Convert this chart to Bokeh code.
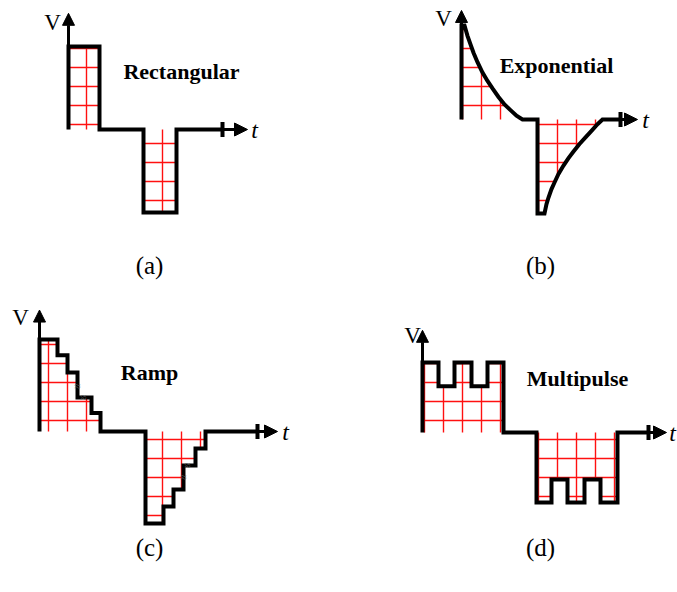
from bokeh.plotting import figure
from bokeh.models import Range1d, Arrow, NormalHead
from bokeh.layouts import column, row
from bokeh.core.properties import value
from bokeh.embed import file_html
from bokeh.resources import INLINE

# ---------------- data (t in arbitrary time units, V normalised to pulse amplitude) -------------
# (a) rectangular
a_pos_edges = [0.0, 3.1]
a_pos_levels = [1.0]
a_neg_edges = [7.5, 10.8]
a_neg_levels = [-1.0]
a_t_tick, a_t_tip, a_v_tip = 15.4, 17.9, 1.40

# (b) exponential
b_decay_t = [0.0, 0.3, 0.6, 0.9, 1.2, 1.6, 2.1, 2.6, 3.1, 3.7, 4.3, 4.9, 5.5, 6.1]
b_decay_v = [1.0, 1.0, 0.89, 0.80, 0.71, 0.61, 0.50, 0.41, 0.33, 0.24, 0.16, 0.10, 0.04, 0.0]
b_rise_t = [7.6, 8.3, 8.5, 8.7, 9.0, 9.3, 9.7, 10.2, 10.7, 11.2, 11.8, 12.4, 13.0, 13.6, 14.1]
b_rise_v = [-1.0, -1.0, -0.90, -0.83, -0.74, -0.67, -0.58, -0.49, -0.41, -0.34, -0.26, -0.19, -0.12, -0.05, 0.0]
b_t_tick, b_t_tip, b_v_tip = 15.9, 17.6, 1.16

# (c) ramp (staircase)
c_pos_edges = [0.0, 1.8, 2.8, 3.8, 5.2, 6.1]
c_pos_levels = [1.0, 0.83, 0.64, 0.37, 0.20]
c_neg_edges = [10.6, 12.4, 13.4, 14.4, 15.6, 16.6]
c_neg_levels = [-1.0, -0.815, -0.63, -0.37, -0.185]
c_break_t = [3.8, 4.4, 14.4, 14.8]
c_break_v = [0.50, 0.37, -0.49, -0.36]
c_t_tick, c_t_tip, c_v_tip = 21.8, 23.8, 1.32

# (d) multipulse
d_pos_edges = [0.0, 1.6, 3.2, 4.9, 6.5, 8.1]
d_pos_levels = [1.0, 0.66, 1.0, 0.66, 1.0]
d_neg_edges = [11.4, 12.9, 14.5, 16.2, 17.8, 19.5]
d_neg_levels = [-1.0, -0.67, -1.0, -0.67, -1.0]
d_t_tick, d_t_tip, d_v_tip = 22.6, 24.4, 1.46

SERIF = value("Liberation Serif")
PX_T = 10.0  # px per time unit
H = 296


def steps(edges, levels):
    xs, ys = [edges[0]], [0.0]
    for i, lv in enumerate(levels):
        xs += [edges[i], edges[i + 1]]
        ys += [lv, lv]
    xs.append(edges[-1])
    ys.append(0.0)
    return xs, ys


def panel(width, ox, oy, sv):
    p = figure(width=width, height=H,
               x_range=Range1d(-ox / PX_T, (width - ox) / PX_T),
               y_range=Range1d(-(H - oy) / sv, oy / sv),
               output_backend="svg", toolbar_location=None,
               x_axis_type=None, y_axis_type=None, min_border=0)
    p.outline_line_color = None
    p.background_fill_color = "white"
    p.border_fill_color = "white"
    return p


def hatch(p, xs, ys):
    p.patch(xs, ys, fill_alpha=0, line_alpha=0, hatch_pattern="+",
            hatch_color="#ff1010", hatch_scale=19, hatch_weight=1.4)


def wave(p, xs, ys):
    p.line(xs, ys, line_width=4, line_color="black", line_join="miter")


def axes(p, sv, v_top, t_tick, t_tip, v_tip, vlabel, tlabel):
    p.add_layout(Arrow(end=NormalHead(size=12, fill_color="black", line_color="black", line_width=1),
                       x_start=0, y_start=v_top, x_end=0, y_end=v_tip,
                       line_width=3, line_color="black"))
    p.add_layout(Arrow(end=NormalHead(size=13, fill_color="black", line_color="black", line_width=1),
                       x_start=t_tick, y_start=0, x_end=t_tip, y_end=0,
                       line_width=3, line_color="black"))
    p.segment(x0=[t_tick], y0=[-7.5 / sv], x1=[t_tick], y1=[7.5 / sv],
              line_width=4, line_color="black")
    p.text(x=[vlabel[0]], y=[vlabel[1]], text=["V"], text_font=SERIF, text_font_size="23px",
           text_align="center", text_baseline="middle", text_color="black")
    p.text(x=[tlabel[0]], y=[tlabel[1]], text=["t"], text_font=SERIF, text_font_size="24px",
           text_font_style="italic", text_align="center", text_baseline="middle",
           text_color="black")


def title(p, x, y, s):
    p.text(x=[x], y=[y], text=[s], text_font=SERIF, text_font_size="22px",
           text_font_style="bold", text_align="center", text_baseline="middle",
           text_color="black")


def caption(p, x, y, s):
    p.text(x=[x], y=[y], text=[s], text_font=SERIF, text_font_size="25px",
           text_align="center", text_baseline="middle", text_color="black")


# ---------------- (a) ----------------
sva = 83.0
pa = panel(338, 68, 129, sva)
axp, ayp = steps(a_pos_edges, a_pos_levels)
axn, ayn = steps(a_neg_edges, a_neg_levels)
hatch(pa, axp, ayp)
hatch(pa, axn, ayn)
wave(pa, axp + axn + [a_t_tick], ayp + ayn + [0.0])
axes(pa, sva, max(a_pos_levels), a_t_tick, a_t_tip, a_v_tip, (-1.6, 1.29), (18.6, 0.0))
title(pa, 11.3, 0.70, "Rectangular")
caption(pa, 8.1, -1.64, "(a)")

# ---------------- (b) ----------------
svb = 94.0
pb = panel(339, 123, 119, svb)
hatch(pb, [0.0] + b_decay_t, [0.0] + b_decay_v)
hatch(pb, [b_rise_t[0]] + b_rise_t, [0.0] + b_rise_v)
wave(pb, [0.0] + b_decay_t + [b_rise_t[0]] + b_rise_t + [b_t_tick],
     [0.0] + b_decay_v + [0.0] + b_rise_v + [0.0])
axes(pb, svb, max(b_decay_v), b_t_tick, b_t_tip, b_v_tip, (-1.8, 1.07), (18.4, 0.0))
title(pb, 9.5, 0.57, "Exponential")
caption(pb, 7.9, -1.55, "(b)")

# ---------------- (c) ----------------
svc = 92.0
pc = panel(338, 39, 135, svc)
cxp, cyp = steps(c_pos_edges, c_pos_levels)
cxn, cyn = steps(c_neg_edges, c_neg_levels)
hatch(pc, cxp, cyp)
hatch(pc, cxn, cyn)
wave(pc, cxp + cxn + [c_t_tick], cyp + cyn + [0.0])
pc.text(x=c_break_t, y=c_break_v, text=["≈"] * len(c_break_t), text_font=SERIF,
        text_font_size="11px", text_align="center", text_baseline="middle",
        text_color="#555555")
axes(pc, svc, max(c_pos_levels), c_t_tick, c_t_tip, c_v_tip, (-1.9, 1.24), (24.6, 0.0))
title(pc, 11.0, 0.64, "Ramp")
caption(pc, 11.0, -1.26, "(c)")

# ---------------- (d) ----------------
svd = 70.0
pd = panel(339, 84, 136, svd)
dxp, dyp = steps(d_pos_edges, d_pos_levels)
dxn, dyn = steps(d_neg_edges, d_neg_levels)
hatch(pd, dxp, dyp)
hatch(pd, dxn, dyn)
wave(pd, dxp + dxn + [d_t_tick], dyp + dyn + [0.0])
axes(pd, svd, max(d_pos_levels), d_t_tick, d_t_tip, d_v_tip, (-1.0, 1.39), (25.0, 0.0))
title(pd, 15.5, 0.77, "Multipulse")
caption(pd, 11.8, -1.64, "(d)")

layout = column(row(pa, pb), row(pc, pd))
open("out.html", "w").write(file_html(layout, INLINE))
